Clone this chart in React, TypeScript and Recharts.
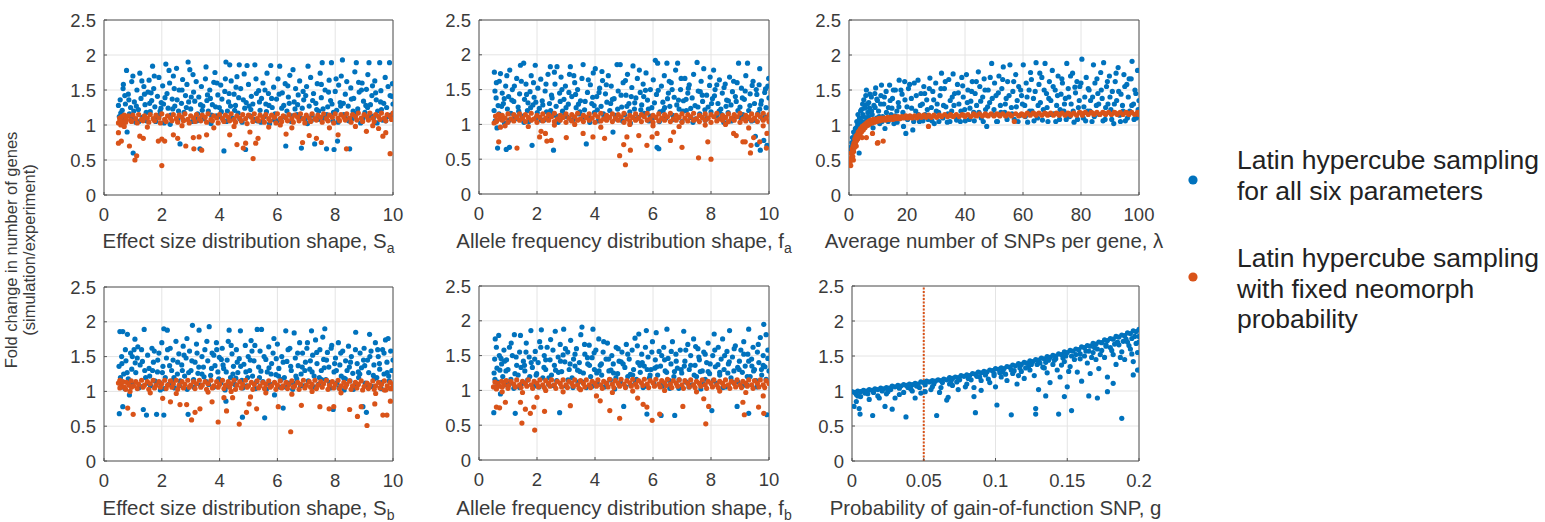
import React from "react";
import {
  ScatterChart,
  Scatter,
  XAxis,
  YAxis,
  CartesianGrid,
  ReferenceArea,
  ReferenceLine,
} from "recharts";

// ---- tick labels ----
const yTicks = [0, 0.5, 1, 1.5, 2, 2.5];
const shapeTicks = [0, 2, 4, 6, 8, 10];
const lamTicks = [0, 20, 40, 60, 80, 100];
const gTicks = [0, 0.05, 0.1, 0.15, 0.2];

// ---- series values, flat x,y pairs ----
// effect size shape S_a
const sABlue = [
  0.5,1.28, 0.53,1.12, 0.56,1.36, 0.6,1.02, 0.63,1.21, 0.67,1.58, 0.7,1.08, 0.74,1.3, 0.78,1.78, 0.8,0.9, 0.84,1.44, 0.88,1.16, 0.92,1.25, 0.96,1.62, 1.0,1.7, 1.01,0.6, 1.05,1.33, 1.1,1.04, 1.14,1.5, 1.19,1.22, 1.24,1.74, 1.28,1.38, 1.33,1.11, 1.38,1.55, 1.42,1.29, 1.47,1.06, 1.52,1.47, 1.56,1.64, 1.6,1.19, 1.65,1.35, 1.68,1.84, 1.72,1.52, 1.76,1.26, 1.8,1.09, 1.85,1.41, 1.9,1.68, 1.94,1.2, 1.98,1.32, 2.03,1.56, 2.08,1.03, 2.14,1.87, 2.18,1.45, 2.22,1.24, 2.27,1.6, 2.31,1.14, 2.36,1.37, 2.4,1.7, 2.45,1.27, 2.51,1.81, 2.55,1.08, 2.6,1.5, 2.63,0.73, 2.68,1.31, 2.72,1.65, 2.77,1.18, 2.82,1.42, 2.87,1.58, 2.91,1.9, 2.97,1.79, 3.0,1.23, 3.05,1.05, 3.1,1.47, 3.14,1.34, 3.19,1.62, 3.24,1.16, 3.28,1.4, 3.32,0.66, 3.37,1.55, 3.42,1.27, 3.46,1.09, 3.51,1.66, 3.56,1.35, 3.61,1.2, 3.66,1.5, 3.7,1.02, 3.75,1.29, 3.8,1.61, 3.84,1.75, 3.89,1.13, 3.94,1.43, 3.99,1.25, 4.04,1.57, 4.08,1.37, 4.13,1.07, 4.15,0.63, 4.18,1.48, 4.22,1.9, 4.27,1.2, 4.31,1.33, 4.35,1.86, 4.4,1.63, 4.45,1.1, 4.5,1.44, 4.55,1.28, 4.6,1.69, 4.64,1.17, 4.68,1.86, 4.73,1.52, 4.78,1.04, 4.82,1.36, 4.87,1.24, 4.9,0.65, 4.95,1.85, 5.0,1.58, 5.05,1.13, 5.1,1.41, 5.15,1.3, 5.22,1.86, 5.26,1.66, 5.3,1.06, 5.35,1.49, 5.4,1.21, 5.45,1.38, 5.5,1.6, 5.55,1.12, 5.6,1.3, 5.64,1.74, 5.69,1.45, 5.73,1.02, 5.77,1.85, 5.82,1.25, 5.87,1.54, 5.92,1.16, 5.97,1.37, 6.02,1.66, 6.08,1.84, 6.12,1.09, 6.17,1.46, 6.22,1.28, 6.27,1.59, 6.29,0.7, 6.33,1.2, 6.38,1.4, 6.43,1.71, 6.48,1.05, 6.54,1.79, 6.58,1.33, 6.63,1.52, 6.68,1.15, 6.72,1.43, 6.77,1.63, 6.83,0.67, 6.86,1.24, 6.91,1.36, 6.96,1.08, 7.01,1.55, 7.06,1.84, 7.1,1.27, 7.15,1.68, 7.2,1.14, 7.25,1.45, 7.29,0.73, 7.33,1.31, 7.38,1.59, 7.43,1.2, 7.48,1.74, 7.52,1.39, 7.55,1.89, 7.6,1.1, 7.65,1.5, 7.7,0.66, 7.74,1.26, 7.79,1.64, 7.84,1.35, 7.87,1.89, 7.92,1.06, 7.96,0.65, 8.0,1.48, 8.05,1.21, 8.08,0.77, 8.12,1.57, 8.17,1.32, 8.21,1.7, 8.25,1.93, 8.3,1.15, 8.35,1.44, 8.4,1.62, 8.45,1.27, 8.5,0.66, 8.54,1.53, 8.59,1.09, 8.64,1.38, 8.68,1.76, 8.73,1.89, 8.78,1.23, 8.83,1.47, 8.88,1.03, 8.93,1.6, 8.98,1.34, 9.03,1.18, 9.08,1.51, 9.13,1.72, 9.17,1.89, 9.22,1.29, 9.27,1.42, 9.32,1.1, 9.37,1.63, 9.42,1.36, 9.47,1.2, 9.54,1.89, 9.58,1.49, 9.63,1.07, 9.68,1.31, 9.73,1.68, 9.78,1.25, 9.83,1.55, 9.88,1.89, 9.92,1.14, 9.96,1.41, 10.0,1.3,
];
const sABlueMore = [
  0.58,1.17, 0.72,1.42, 0.95,1.09, 1.12,1.27, 1.31,1.63, 1.46,1.18, 1.63,1.46, 1.79,1.05, 1.97,1.24, 2.11,1.39, 2.29,1.01, 2.43,1.52, 2.58,1.2, 2.74,1.07, 2.93,1.33, 3.08,1.72, 3.22,1.06, 3.4,1.21, 3.58,1.43, 3.72,1.14, 3.91,1.6, 4.06,1.19, 4.24,1.05, 4.38,1.27, 4.57,1.54, 4.7,1.09, 4.92,1.32, 5.08,1.22, 5.27,1.45, 5.43,1.04, 5.62,1.19, 5.8,1.38, 5.99,1.06, 6.15,1.24, 6.36,1.56, 6.5,1.13, 6.7,1.29, 6.89,1.48, 7.04,1.02, 7.22,1.35, 7.41,1.08, 7.58,1.23, 7.77,1.47, 7.94,1.18, 8.1,1.04, 8.28,1.31, 8.47,1.06, 8.62,1.2, 8.81,1.61, 8.96,1.09, 9.12,1.25, 9.29,1.56, 9.45,1.03, 9.6,1.22, 9.81,1.12, 9.98,1.59,
  0.66,1.52, 0.86,1.36, 1.03,1.2, 1.21,1.05, 1.4,1.44, 1.58,1.31, 1.74,1.7, 1.91,1.14, 2.06,1.3, 2.25,1.78, 2.38,1.23, 2.53,1.36, 2.7,1.5, 2.85,1.25, 3.02,1.4, 3.17,1.11, 3.34,1.29, 3.53,1.83, 3.68,1.38, 3.86,1.26, 4.01,1.12, 4.2,1.66, 4.33,1.45, 4.52,1.21, 4.66,1.39, 4.85,1.73, 5.02,1.27, 5.19,1.08, 5.38,1.33, 5.57,1.5, 5.71,1.28, 5.9,1.07, 6.06,1.44, 6.24,1.12, 6.41,1.31, 6.61,1.23, 6.8,1.1, 6.98,1.42, 7.17,1.06, 7.36,1.22, 7.52,1.58, 7.71,1.15, 7.89,1.3, 8.03,1.66, 8.19,1.27, 8.38,1.09, 8.56,1.37, 8.75,1.17, 8.91,1.5, 9.06,1.28, 9.24,1.13, 9.4,1.46, 9.57,1.33, 9.75,1.06, 9.9,1.42,
];
const sAOrange = [
  0.5,1.03, 0.54,1.1, 0.58,1.0, 0.62,1.12, 0.66,1.05, 0.7,1.14, 0.76,1.08, 0.84,1.13, 0.92,1.07, 1.0,1.14, 1.1,1.09, 1.2,1.15, 1.3,1.08, 1.4,1.13, 1.5,1.1, 1.6,1.15, 1.7,1.09, 1.8,1.14, 1.9,1.1, 2.0,1.16, 2.1,1.08, 2.2,1.13, 2.3,1.1, 2.4,1.15, 2.5,1.09, 2.6,1.14, 2.7,1.11, 2.8,1.16, 2.9,1.08, 3.0,1.13, 3.1,1.1, 3.2,1.15, 3.3,1.09, 3.4,1.14, 3.5,1.11, 3.6,1.16, 3.7,1.08, 3.8,1.13, 3.9,1.1, 4.0,1.15, 4.1,1.09, 4.2,1.14, 4.3,1.11, 4.4,1.16, 4.5,1.08, 4.6,1.13, 4.7,1.1, 4.8,1.15, 4.9,1.09, 5.0,1.14, 5.1,1.11, 5.2,1.16, 5.3,1.09, 5.4,1.14, 5.5,1.1, 5.6,1.15, 5.7,1.09, 5.8,1.14, 5.9,1.11, 6.0,1.16, 6.1,1.09, 6.2,1.13, 6.3,1.1, 6.4,1.15, 6.5,1.09, 6.6,1.14, 6.7,1.11, 6.8,1.16, 6.9,1.09, 7.0,1.14, 7.1,1.1, 7.2,1.16, 7.3,1.09, 7.4,1.14, 7.5,1.11, 7.6,1.16, 7.7,1.09, 7.8,1.14, 7.9,1.11, 8.0,1.16, 8.1,1.1, 8.2,1.15, 8.3,1.11, 8.4,1.16, 8.5,1.1, 8.6,1.15, 8.7,1.12, 8.8,1.17, 8.9,1.1, 9.0,1.15, 9.1,1.12, 9.2,1.17, 9.3,1.1, 9.4,1.15, 9.5,1.12, 9.6,1.17, 9.7,1.1, 9.8,1.15, 9.9,1.12, 10.0,1.17,
  0.55,1.06, 0.75,1.04, 0.95,1.05, 1.15,1.03, 1.35,1.06, 1.55,1.04, 1.75,1.06, 1.95,1.03, 2.15,1.05, 2.35,1.06, 2.55,1.04, 2.75,1.06, 2.95,1.03, 3.15,1.05, 3.35,1.06, 3.55,1.04, 3.75,1.06, 3.95,1.03, 4.15,1.05, 4.35,1.06, 4.55,1.04, 4.75,1.06, 4.95,1.02, 5.15,1.05, 5.35,1.06, 5.55,1.04, 5.75,1.06, 5.95,1.03, 6.15,1.05, 6.35,1.06, 6.55,1.04, 6.75,1.06, 6.95,1.03, 7.15,1.05, 7.35,1.07, 7.55,1.04, 7.75,1.06, 7.95,1.03, 8.15,1.06, 8.35,1.07, 8.55,1.04, 8.75,1.07, 8.95,1.05, 9.15,1.07, 9.35,1.05, 9.55,1.08, 9.75,1.06, 9.95,1.08,
  0.7,0.98, 1.5,0.97, 2.7,0.99, 3.8,0.96, 4.5,0.98, 5.7,0.97, 6.1,1.0, 7.8,0.96, 8.7,0.98, 9.3,0.99, 9.5,0.95,
  0.5,0.89, 0.5,0.74, 0.6,0.77, 0.88,0.7, 1.07,0.5, 1.13,0.56, 1.24,0.84, 1.36,0.81, 1.88,0.77, 2.0,0.8, 2.0,0.42, 2.1,0.77, 2.4,0.86, 2.55,0.81, 2.83,0.7, 3.09,0.82, 3.11,0.66, 3.29,0.83, 3.38,0.64, 3.55,0.86, 4.35,0.86, 4.6,0.72, 4.82,0.67, 4.9,0.74, 5.05,0.9, 5.16,0.52, 5.25,0.74, 5.33,0.81, 6.3,0.87, 6.5,0.96, 6.87,0.75, 7.1,0.85, 7.35,0.81, 7.52,0.75, 8.1,0.86, 8.39,0.66, 9.08,0.91, 9.65,0.84, 9.75,0.89, 9.9,0.59,
];

// allele frequency shape f_a
const fABlue = [
  0.52,1.2, 0.53,1.75, 0.56,1.05, 0.59,1.38, 0.62,0.95, 0.64,0.66, 0.66,1.27, 0.7,1.62, 0.74,1.73, 0.77,1.12, 0.8,1.45, 0.84,1.3, 0.88,1.02, 0.92,1.55, 0.94,0.64, 0.98,1.22, 1.02,1.4, 1.05,0.67, 1.06,1.78, 1.1,1.16, 1.15,1.5, 1.2,1.33, 1.25,1.08, 1.3,1.66, 1.35,1.25, 1.4,1.44, 1.43,1.85, 1.48,1.12, 1.54,1.88, 1.57,1.36, 1.62,1.58, 1.67,1.2, 1.72,1.04, 1.76,1.47, 1.8,1.7, 1.83,0.7, 1.86,1.28, 1.9,1.39, 1.94,1.85, 1.98,1.1, 2.03,1.52, 2.08,1.23, 2.13,1.65, 2.18,1.34, 2.23,1.06, 2.28,1.48, 2.33,1.18, 2.38,1.72, 2.43,1.3, 2.46,1.83, 2.5,1.42, 2.55,1.14, 2.57,0.63, 2.62,1.58, 2.66,1.26, 2.69,1.83, 2.73,1.03, 2.78,1.45, 2.83,1.68, 2.88,1.19, 2.93,1.36, 2.98,1.55, 3.03,1.11, 3.08,1.29, 3.12,1.72, 3.15,1.83, 3.2,1.4, 3.25,1.07, 3.3,1.6, 3.35,1.24, 3.4,1.5, 3.45,1.15, 3.5,1.34, 3.55,1.66, 3.59,1.86, 3.64,1.21, 3.7,0.72, 3.74,1.46, 3.79,1.09, 3.84,1.57, 3.89,1.3, 3.94,1.74, 3.98,1.17, 4.01,1.8, 4.06,1.4, 4.11,1.05, 4.16,1.52, 4.21,1.26, 4.26,1.63, 4.31,1.12, 4.36,1.44, 4.41,1.32, 4.46,1.7, 4.51,1.2, 4.56,1.55, 4.62,0.89, 4.66,1.37, 4.71,1.08, 4.76,1.86, 4.8,1.48, 4.87,1.86, 4.92,1.25, 4.97,1.6, 5.02,1.14, 5.07,1.42, 5.12,1.72, 5.17,1.3, 5.22,1.02, 5.27,1.53, 5.31,1.84, 5.36,1.22, 5.41,1.38, 5.46,1.66, 5.51,1.1, 5.56,1.46, 5.61,1.28, 5.66,1.58, 5.71,1.16, 5.76,1.74, 5.81,1.35, 5.86,1.05, 5.91,1.5, 5.96,1.24, 6.01,1.64, 6.08,1.92, 6.12,1.43, 6.14,0.67, 6.16,1.88, 6.2,0.65, 6.24,1.18, 6.29,1.55, 6.34,1.32, 6.39,1.7, 6.44,1.09, 6.48,1.88, 6.53,1.45, 6.58,1.26, 6.63,1.6, 6.68,1.13, 6.73,1.39, 6.78,1.78, 6.85,1.88, 6.9,1.22, 6.95,1.5, 7.0,1.04, 7.05,1.34, 7.1,1.66, 7.15,1.2, 7.2,1.45, 7.25,1.57, 7.3,1.1, 7.35,1.38, 7.4,1.72, 7.45,1.27, 7.52,1.89, 7.56,1.48, 7.61,1.15, 7.66,1.62, 7.71,1.33, 7.75,1.8, 7.8,1.06, 7.85,1.42, 7.9,1.25, 7.95,1.56, 8.0,1.18, 8.05,1.37, 8.09,1.78, 8.14,1.5, 8.19,1.12, 8.24,1.3, 8.29,1.64, 8.34,1.22, 8.39,1.45, 8.44,1.03, 8.49,1.58, 8.54,1.35, 8.59,1.17, 8.64,1.68, 8.69,1.28, 8.74,1.47, 8.79,1.09, 8.84,1.4, 8.9,1.6, 8.95,1.88, 9.0,1.25, 9.05,1.52, 9.1,1.14, 9.15,1.36, 9.2,1.7, 9.26,1.88, 9.3,1.2, 9.35,1.44, 9.4,1.05, 9.45,1.62, 9.5,1.3, 9.53,0.83, 9.56,1.5, 9.59,0.71, 9.62,1.16, 9.66,1.57, 9.68,1.8, 9.7,0.63, 9.74,1.34, 9.78,1.08, 9.82,0.77, 9.85,1.46, 9.9,1.24, 9.93,0.7, 9.96,1.55, 10.0,1.38,
];
const fABlueMore = [
  0.55,1.48, 0.69,1.15, 0.87,1.37, 1.04,1.06, 1.22,1.55, 1.37,1.19, 1.55,1.03, 1.69,1.31, 1.88,1.6, 2.01,1.17, 2.2,1.28, 2.36,1.08, 2.52,1.38, 2.67,1.12, 2.86,1.5, 3.0,1.24, 3.18,1.06, 3.33,1.43, 3.48,1.18, 3.66,1.33, 3.82,1.03, 3.97,1.27, 4.14,1.46, 4.29,1.15, 4.44,1.09, 4.6,1.36, 4.78,1.22, 4.95,1.05, 5.1,1.26, 5.25,1.4, 5.43,1.08, 5.58,1.21, 5.74,1.49, 5.9,1.12, 6.05,1.31, 6.22,1.04, 6.4,1.24, 6.56,1.62, 6.71,1.07, 6.88,1.35, 7.03,1.19, 7.22,1.52, 7.38,1.03, 7.55,1.25, 7.7,1.42, 7.87,1.09, 8.02,1.3, 8.2,1.57, 8.37,1.14, 8.52,1.26, 8.7,1.05, 8.87,1.33, 9.02,1.1, 9.18,1.48, 9.34,1.27, 9.52,1.06, 9.68,1.22, 9.86,1.11, 9.99,1.66,
  0.6,1.6, 0.78,1.26, 0.96,1.7, 1.13,1.35, 1.28,1.11, 1.46,1.62, 1.64,1.43, 1.78,1.24, 1.96,1.32, 2.15,1.06, 2.31,1.58, 2.47,1.2, 2.6,1.75, 2.8,1.33, 2.95,1.13, 3.1,1.46, 3.27,1.7, 3.43,1.29, 3.6,1.1, 3.77,1.64, 3.92,1.39, 4.08,1.21, 4.24,1.76, 4.39,1.57, 4.54,1.3, 4.7,1.13, 4.9,1.42, 5.05,1.63, 5.2,1.18, 5.37,1.31, 5.53,1.78, 5.68,1.4, 5.84,1.22, 6.0,1.1, 6.18,1.49, 6.35,1.2, 6.5,1.37, 6.66,1.5, 6.82,1.28, 6.97,1.66, 7.14,1.36, 7.3,1.23, 7.47,1.08, 7.63,1.47, 7.79,1.21, 7.97,1.68, 8.12,1.41, 8.28,1.19, 8.45,1.53, 8.6,1.34, 8.78,1.62, 8.93,1.2, 9.08,1.38, 9.24,1.08, 9.42,1.56, 9.58,1.43, 9.72,1.29, 9.88,1.51,
];
const fAOrange = [
  0.52,1.02, 0.57,1.12, 0.62,1.06, 0.67,1.14, 0.72,1.08, 0.8,1.13, 0.9,1.09, 1.0,1.15, 1.1,1.08, 1.2,1.14, 1.3,1.1, 1.4,1.15, 1.5,1.09, 1.6,1.14, 1.7,1.1, 1.8,1.16, 1.9,1.08, 2.0,1.13, 2.1,1.1, 2.2,1.15, 2.3,1.09, 2.4,1.14, 2.5,1.11, 2.6,1.16, 2.7,1.08, 2.8,1.13, 2.9,1.1, 3.0,1.15, 3.1,1.09, 3.2,1.14, 3.3,1.11, 3.4,1.16, 3.5,1.08, 3.6,1.13, 3.7,1.1, 3.8,1.15, 3.9,1.09, 4.0,1.14, 4.1,1.11, 4.2,1.16, 4.3,1.08, 4.4,1.13, 4.5,1.1, 4.6,1.15, 4.7,1.09, 4.8,1.14, 4.9,1.11, 5.0,1.16, 5.1,1.08, 5.2,1.13, 5.3,1.1, 5.4,1.15, 5.5,1.09, 5.6,1.14, 5.7,1.11, 5.8,1.16, 5.9,1.08, 6.0,1.13, 6.1,1.1, 6.2,1.15, 6.3,1.09, 6.4,1.14, 6.5,1.11, 6.6,1.16, 6.7,1.08, 6.8,1.13, 6.9,1.1, 7.0,1.15, 7.1,1.09, 7.2,1.14, 7.3,1.11, 7.4,1.16, 7.5,1.08, 7.6,1.13, 7.7,1.1, 7.8,1.15, 7.9,1.09, 8.0,1.14, 8.1,1.11, 8.2,1.16, 8.3,1.08, 8.4,1.13, 8.5,1.1, 8.6,1.15, 8.7,1.09, 8.8,1.14, 8.9,1.11, 9.0,1.16, 9.1,1.08, 9.2,1.13, 9.3,1.1, 9.4,1.15, 9.5,1.09, 9.6,1.14, 9.7,1.11, 9.8,1.16, 9.9,1.09, 10.0,1.14,
  0.6,1.04, 0.8,1.06, 1.0,1.03, 1.2,1.05, 1.4,1.06, 1.6,1.04, 1.8,1.06, 2.0,1.03, 2.2,1.05, 2.4,1.06, 2.6,1.04, 2.8,1.06, 3.0,1.03, 3.2,1.05, 3.4,1.06, 3.6,1.04, 3.8,1.06, 4.0,1.03, 4.2,1.05, 4.4,1.06, 4.6,1.04, 4.8,1.06, 5.0,1.03, 5.2,1.05, 5.4,1.06, 5.6,1.04, 5.8,1.06, 6.0,1.03, 6.2,1.05, 6.4,1.06, 6.6,1.04, 6.8,1.06, 7.0,1.03, 7.2,1.05, 7.4,1.06, 7.6,1.04, 7.8,1.06, 8.0,1.03, 8.2,1.05, 8.4,1.06, 8.6,1.04, 8.8,1.06, 9.0,1.03, 9.2,1.05, 9.4,1.06, 9.6,1.04, 9.8,1.06, 10.0,1.04,
  0.9,0.98, 1.7,0.97, 2.6,0.99, 3.3,1.0, 4.2,0.96, 5.2,1.0, 6.0,0.98, 6.9,0.97, 7.8,0.99, 8.5,1.0, 9.3,0.95, 9.8,0.98,
  0.68,0.75, 0.74,0.96, 1.31,0.66, 2.09,0.82, 2.14,0.9, 2.29,0.87, 2.34,0.76, 2.49,0.77, 3.01,0.81, 3.59,0.87, 3.93,0.82, 4.33,0.8, 4.85,0.55, 4.99,0.71, 5.05,0.42, 5.1,0.82, 5.22,0.63, 5.51,0.84, 5.79,0.7, 5.97,0.82, 6.14,0.87, 6.6,0.77, 6.71,0.89, 7.0,0.67, 7.57,0.52, 7.89,0.75, 8.0,0.5, 8.78,0.87, 8.87,0.84, 9.1,0.75, 9.18,0.75, 9.36,0.59, 9.38,0.7, 9.47,0.81, 9.68,0.75, 9.91,0.66, 9.93,0.87,
];

// average number of SNPs per gene, lambda
const lamBlue = [
  0.6,0.68, 0.8,0.65, 1.0,0.75, 1.2,0.82, 1.4,0.69, 1.6,0.9, 1.8,0.78, 2.0,0.88, 2.2,0.95, 2.4,0.84, 2.5,0.96, 2.7,1.05, 2.9,0.92, 3.1,1.15, 3.3,1.02, 3.5,0.6, 3.6,1.1, 3.8,0.98, 4.0,1.2, 4.3,1.22, 4.5,1.05, 4.7,1.3, 5.0,1.12, 5.1,1.36, 5.4,0.98, 5.6,1.25, 5.8,1.42, 6.0,1.5, 6.2,1.08, 6.5,1.18, 6.8,1.32, 7.1,1.24, 7.4,1.02, 7.7,1.4, 8.0,1.15, 8.3,0.96, 8.6,1.28, 8.9,1.45, 9.2,1.53, 9.5,1.1, 9.8,1.35, 10.2,1.2, 10.6,1.02, 11.0,1.42, 11.2,1.57, 11.6,1.12, 12.0,1.3, 12.4,0.95, 12.8,1.48, 13.2,1.08, 13.6,1.25, 14.0,1.57, 14.5,1.15, 15.0,1.38, 15.5,1.02, 16.0,1.5, 16.5,1.2, 17.0,1.32, 17.3,1.64, 17.8,1.1, 18.3,1.44, 18.8,0.98, 19.2,1.62, 19.6,0.88, 20.0,1.26, 20.5,1.52, 21.0,1.12, 21.5,1.38, 22.0,0.93, 22.5,1.6, 23.0,1.2, 23.8,1.64, 24.3,1.05, 24.8,1.45, 25.3,1.3, 25.8,1.55, 26.3,1.15, 26.8,1.36, 27.3,1.08, 27.9,1.67, 28.4,1.25, 28.9,1.48, 29.4,1.02, 29.9,1.6, 30.4,1.3, 30.9,1.18, 31.4,1.42, 31.9,1.74, 32.4,1.1, 32.9,1.52, 33.4,1.26, 33.9,1.04, 34.4,1.65, 34.9,1.35, 35.4,1.2, 35.9,1.73, 36.4,1.45, 36.9,1.12, 37.4,1.58, 37.9,1.3, 38.4,1.05, 38.9,1.68, 39.4,1.4, 39.9,1.22, 40.5,1.72, 41.0,1.5, 41.5,1.08, 42.0,1.34, 42.5,1.62, 43.0,1.18, 43.5,1.45, 44.0,1.28, 44.6,1.76, 45.1,1.55, 45.6,1.1, 46.1,1.4, 46.6,1.66, 47.1,1.22, 47.5,0.98, 48.0,1.5, 48.5,1.32, 49.2,1.88, 49.7,1.15, 50.2,1.6, 50.7,1.42, 51.2,1.05, 51.7,1.7, 52.2,1.28, 52.7,1.52, 53.2,1.83, 53.7,1.18, 54.2,1.38, 54.7,1.62, 55.5,1.86, 56.0,1.25, 56.5,1.48, 57.0,1.08, 57.5,1.72, 58.0,1.35, 58.5,1.55, 59.0,1.14, 59.5,1.42, 60.1,1.86, 60.6,1.28, 61.1,1.6, 61.6,1.04, 62.1,1.5, 62.6,1.75, 63.1,1.2, 63.6,1.38, 64.5,1.89, 65.0,1.1, 65.5,1.58, 66.0,1.32, 66.5,1.68, 67.0,1.22, 67.6,1.88, 68.1,1.45, 68.6,1.05, 69.1,1.62, 69.6,1.35, 70.1,1.78, 70.6,1.16, 71.1,1.5, 71.6,1.28, 72.1,1.7, 72.6,1.08, 73.1,1.44, 73.6,1.6, 74.1,1.2, 74.6,1.38, 75.1,1.88, 75.6,1.52, 76.1,1.12, 76.6,1.3, 77.1,1.74, 77.6,1.04, 78.1,1.46, 78.6,1.62, 79.1,1.25, 79.6,1.55, 80.3,1.94, 80.8,1.1, 81.3,1.4, 81.8,1.68, 82.3,1.2, 82.8,1.5, 83.3,1.35, 83.8,1.05, 84.3,1.86, 84.8,1.6, 85.3,1.28, 85.8,1.45, 86.3,1.15, 86.8,1.75, 87.3,1.38, 87.8,1.89, 88.3,1.08, 88.8,1.55, 89.3,1.3, 89.8,1.7, 90.3,1.22, 90.8,1.48, 91.3,1.02, 91.8,1.62, 92.3,1.35, 92.8,1.82, 93.3,1.14, 93.8,1.44, 94.3,1.28, 94.8,1.72, 95.3,1.06, 95.8,1.58, 96.3,1.4, 96.8,1.2, 97.3,1.66, 97.6,1.91, 98.1,1.3, 98.6,1.5, 99.1,1.1, 99.5,1.78, 100.0,1.35,
];
const lamBlueMore = [
  1.1,0.7, 1.7,0.8, 2.3,0.9, 3.0,1.0, 3.4,0.88, 3.9,1.06, 4.4,0.95, 4.8,1.15, 5.3,1.24, 5.7,1.05, 6.3,1.3, 6.7,1.12, 7.2,1.44, 7.8,1.2, 8.4,1.06, 9.0,1.25, 9.6,1.37, 10.4,1.12, 10.9,1.3, 11.4,1.05, 12.2,1.4, 12.9,1.18, 13.5,1.05, 14.2,1.35, 14.8,1.24, 15.3,1.5, 15.9,1.13, 16.6,1.04, 17.2,1.26, 17.9,1.5, 18.6,1.18, 19.3,1.36, 20.2,1.08, 20.9,1.58, 21.6,1.24, 22.3,1.05, 23.2,1.42, 23.9,1.15, 24.6,1.28, 25.5,1.06, 26.1,1.45, 27.0,1.22, 27.7,1.52, 28.6,1.06, 29.2,1.36, 30.1,1.2, 31.0,1.05, 31.7,1.52, 32.6,1.28, 33.2,1.62, 34.1,1.16, 34.8,1.05, 35.6,1.4, 36.2,1.28, 37.1,1.07, 37.7,1.46, 38.6,1.2, 39.2,1.56, 40.1,1.06, 40.8,1.32, 41.7,1.24, 42.3,1.48, 43.2,1.06, 43.9,1.62, 44.8,1.18, 45.4,1.34, 46.3,1.05, 46.9,1.5, 47.8,1.26, 48.7,1.68, 49.4,1.38, 50.0,1.22, 50.9,1.05, 51.5,1.46, 52.4,1.18, 53.0,1.65, 53.9,1.3, 54.5,1.08, 55.2,1.42, 56.2,1.16, 56.8,1.62, 57.7,1.26, 58.3,1.05, 59.2,1.5, 59.8,1.3, 60.8,1.12, 61.4,1.4, 62.3,1.2, 62.9,1.65, 63.8,1.06, 64.2,1.48, 65.2,1.28, 65.8,1.74, 66.7,1.07, 67.3,1.5, 68.3,1.25, 68.9,1.38, 69.8,1.15, 70.4,1.55, 71.3,1.05, 71.9,1.42, 72.8,1.22, 73.4,1.66, 74.3,1.3, 74.9,1.08, 75.8,1.4, 76.4,1.7, 77.3,1.2, 77.9,1.54, 78.8,1.08, 79.4,1.35, 80.0,1.6, 81.0,1.26, 81.6,1.06, 82.5,1.52, 83.1,1.2, 84.0,1.4, 84.6,1.12, 85.5,1.66, 86.1,1.3, 87.0,1.5, 87.6,1.06, 88.5,1.25, 89.1,1.62, 90.0,1.4, 90.6,1.08, 91.5,1.3, 92.1,1.74, 93.0,1.48, 93.6,1.05, 94.5,1.2, 95.1,1.55, 96.0,1.1, 96.6,1.66, 97.5,1.28, 98.3,1.08, 98.9,1.45, 99.7,1.22,
];
const lamOrange = [
  0.3,0.45, 0.5,0.52, 0.6,0.42, 0.7,0.6, 0.9,0.5, 1.0,0.58, 1.1,0.66, 1.3,0.55, 1.4,0.7, 1.5,0.5, 1.6,0.62, 1.7,0.74, 1.9,0.68, 2.0,0.8, 2.2,0.72, 2.4,0.84, 2.5,0.7, 2.6,0.78, 2.8,0.86, 3.0,0.8, 3.2,0.9, 3.4,0.84, 3.6,0.92, 3.8,0.87, 4.0,0.95, 4.3,0.9, 4.5,0.82, 4.6,0.98, 4.9,0.93, 5.2,1.0, 5.5,0.96, 5.8,1.02, 6.0,0.82, 6.1,0.99, 6.4,1.04, 6.7,1.0, 7.0,1.06, 7.3,1.02, 7.6,1.07, 8.0,1.03, 8.1,0.88, 8.4,1.08, 8.8,1.04, 9.2,1.08, 9.6,1.05, 9.8,0.74, 10.0,0.75, 10.1,1.09, 10.6,1.06, 11.1,1.1, 11.6,1.07, 11.8,0.77, 12.1,1.1, 12.7,1.07, 13.3,1.11, 13.9,1.08, 14.5,1.11, 15.1,1.08, 15.7,1.12, 16.3,1.09, 16.9,1.12, 17.5,1.09, 18.2,1.12, 18.9,1.1, 19.6,1.13, 20.3,1.1, 21.0,1.13, 21.8,1.1, 22.6,1.13, 23.4,1.1, 24.2,1.14, 25.0,1.11, 25.8,1.14, 26.6,1.11, 27.4,0.98, 27.5,1.14, 28.4,1.11, 29.3,1.14, 30.2,1.11, 31.1,1.14, 32.0,1.12, 33.0,1.15, 34.0,1.12, 35.0,1.15, 36.0,1.12, 37.0,1.15, 38.0,1.12, 39.0,1.15, 40.0,1.12, 41.0,1.15, 42.0,1.12, 43.0,1.16, 44.0,1.13, 45.0,1.16, 46.0,1.13, 47.0,1.16, 48.0,1.13, 49.0,1.16, 50.0,1.13, 51.0,1.16, 52.0,1.13, 53.0,1.16, 54.0,1.13, 55.0,1.16, 56.0,1.13, 57.0,1.05, 57.5,1.16, 58.5,1.13, 59.5,1.16, 60.5,1.13, 61.5,1.17, 62.5,1.14, 63.5,1.17, 64.5,1.14, 65.5,1.17, 66.5,1.14, 67.5,1.17, 68.5,1.14, 69.5,1.17, 70.5,1.14, 71.5,1.17, 72.5,1.14, 73.5,1.17, 74.5,1.14, 75.5,1.17, 76.5,1.14, 77.5,1.17, 78.5,1.14, 79.5,1.18, 80.5,1.14, 81.5,1.18, 82.5,1.15, 83.5,1.18, 84.5,1.15, 85.5,1.18, 86.5,1.15, 87.5,1.18, 88.5,1.15, 89.5,1.18, 90.5,1.15, 91.5,1.18, 92.5,1.15, 93.5,1.18, 94.5,1.15, 95.5,1.18, 96.5,1.15, 97.5,1.18, 98.5,1.15, 99.5,1.18, 100.0,1.15,
  1.2,0.62, 1.8,0.7, 2.3,0.76, 2.9,0.82, 3.5,0.88, 4.2,0.92, 5.0,0.97, 5.9,0.99, 6.9,1.03, 7.9,1.05, 9.0,1.06, 10.4,1.08, 12.4,1.09, 14.2,1.09, 16.0,1.1, 18.5,1.11, 21.4,1.11, 24.6,1.12, 28.0,1.12, 31.6,1.13, 35.5,1.13, 39.5,1.14, 43.5,1.14, 47.5,1.14, 51.5,1.15, 55.5,1.15, 60.0,1.15, 64.0,1.16, 68.0,1.16, 72.0,1.16, 76.0,1.16, 80.0,1.17, 84.0,1.17, 88.0,1.17, 92.0,1.17, 96.0,1.17,
];

// effect size shape S_b
const sBBlue = [
  0.52,1.36, 0.53,0.68, 0.55,1.86, 0.58,1.12, 0.61,1.5, 0.65,1.86, 0.65,0.78, 0.68,1.25, 0.72,1.04, 0.76,1.44, 0.81,1.82, 0.84,1.18, 0.88,0.95, 0.92,1.55, 0.96,1.32, 1.0,1.1, 1.04,1.6, 1.07,1.75, 1.1,1.27, 1.15,1.48, 1.2,1.05, 1.25,1.38, 1.3,1.6, 1.36,0.74, 1.39,1.89, 1.44,1.2, 1.47,0.66, 1.51,1.52, 1.56,1.33, 1.61,1.08, 1.66,1.62, 1.71,1.42, 1.76,1.15, 1.82,0.67, 1.85,1.28, 1.9,1.55, 1.95,1.02, 2.0,1.7, 2.04,1.36, 2.07,1.9, 2.07,0.66, 2.12,1.2, 2.16,1.48, 2.19,1.88, 2.24,1.1, 2.29,1.62, 2.34,1.3, 2.39,1.45, 2.44,1.05, 2.49,1.72, 2.54,1.25, 2.59,1.54, 2.64,1.15, 2.69,1.38, 2.74,1.65, 2.79,1.22, 2.84,1.48, 2.88,1.03, 2.91,0.67, 2.96,1.58, 3.01,1.3, 3.06,1.95, 3.1,1.17, 3.15,1.42, 3.2,1.68, 3.25,1.26, 3.29,1.88, 3.34,1.09, 3.39,1.5, 3.44,1.35, 3.49,1.6, 3.54,1.14, 3.59,1.44, 3.64,1.93, 3.69,1.23, 3.74,1.55, 3.79,1.06, 3.84,1.37, 3.89,1.7, 3.94,1.28, 3.99,1.49, 4.04,1.12, 4.09,1.62, 4.14,1.33, 4.19,1.02, 4.22,0.86, 4.26,1.45, 4.3,1.72, 4.33,1.88, 4.38,1.2, 4.43,1.54, 4.48,1.36, 4.53,1.1, 4.58,1.6, 4.63,1.27, 4.68,1.47, 4.72,1.87, 4.77,1.16, 4.79,0.63, 4.84,1.39, 4.89,1.66, 4.94,1.08, 4.99,1.5, 5.04,1.3, 5.09,1.73, 5.14,1.22, 5.19,1.44, 5.24,1.04, 5.3,1.89, 5.35,1.35, 5.4,1.58, 5.45,1.89, 5.5,1.14, 5.56,0.62, 5.6,1.46, 5.65,1.28, 5.7,1.64, 5.75,1.1, 5.8,1.4, 5.85,1.55, 5.9,0.95, 5.95,1.24, 6.0,1.68, 6.05,1.33, 6.1,1.06, 6.15,1.5, 6.2,0.76, 6.24,1.2, 6.29,1.87, 6.33,1.43, 6.38,1.12, 6.43,1.62, 6.48,1.3, 6.53,1.03, 6.58,1.84, 6.62,1.48, 6.67,1.18, 6.72,1.37, 6.77,1.7, 6.82,1.25, 6.87,1.55, 6.92,1.08, 6.97,1.42, 7.02,1.62, 7.07,1.15, 7.12,1.32, 7.18,1.87, 7.22,1.52, 7.27,1.22, 7.32,1.74, 7.37,1.4, 7.42,1.1, 7.47,1.6, 7.52,1.3, 7.57,1.78, 7.6,1.46, 7.64,1.9, 7.68,1.17, 7.73,1.56, 7.78,1.35, 7.83,1.05, 7.88,1.66, 7.93,0.74, 7.96,1.28, 8.01,1.48, 8.06,1.12, 8.11,1.7, 8.16,1.38, 8.21,1.22, 8.26,1.58, 8.31,1.02, 8.36,1.44, 8.41,1.3, 8.46,1.65, 8.51,1.15, 8.56,1.5, 8.61,1.26, 8.66,1.08, 8.71,1.85, 8.76,1.4, 8.81,1.2, 8.86,1.55, 8.91,1.34, 8.96,0.78, 9.0,1.62, 9.04,1.12, 9.08,0.7, 9.12,1.45, 9.16,1.27, 9.19,1.82, 9.24,1.58, 9.29,1.07, 9.34,1.38, 9.39,1.7, 9.44,1.2, 9.49,1.5, 9.54,1.32, 9.59,1.04, 9.64,1.6, 9.69,1.25, 9.74,1.74, 9.79,1.42, 9.83,1.76, 9.87,1.15, 9.92,1.58, 9.96,1.3, 10.0,1.45,
];
const sBBlueMore = [
  0.57,1.2, 0.74,1.6, 0.9,1.13, 1.08,1.41, 1.23,1.08, 1.41,1.3, 1.58,1.22, 1.74,1.58, 1.92,1.13, 2.09,1.04, 2.27,1.37, 2.42,1.2, 2.61,1.08, 2.77,1.52, 2.93,1.27, 3.12,1.06, 3.28,1.35, 3.46,1.21, 3.62,1.1, 3.8,1.52, 3.97,1.18, 4.12,1.38, 4.28,1.07, 4.46,1.25, 4.61,1.42, 4.8,1.05, 4.97,1.2, 5.12,1.58, 5.28,1.14, 5.43,1.29, 5.62,1.03, 5.78,1.25, 5.96,1.47, 6.13,1.17, 6.3,1.06, 6.46,1.36, 6.64,1.22, 6.8,1.08, 6.95,1.3, 7.14,1.44, 7.29,1.06, 7.45,1.2, 7.62,1.34, 7.8,1.13, 7.98,1.4, 8.13,1.05, 8.3,1.19, 8.49,1.35, 8.63,1.03, 8.8,1.28, 8.98,1.45, 9.14,1.09, 9.32,1.23, 9.47,1.6, 9.62,1.13, 9.8,1.27, 9.97,1.05,
  0.62,1.4, 0.8,1.27, 0.98,1.5, 1.17,1.64, 1.33,1.43, 1.5,1.12, 1.68,1.3, 1.86,1.45, 2.02,1.27, 2.2,1.6, 2.36,1.15, 2.55,1.42, 2.71,1.3, 2.87,1.76, 3.04,1.44, 3.22,1.55, 3.39,1.25, 3.56,1.72, 3.72,1.33, 3.9,1.6, 4.06,1.46, 4.23,1.28, 4.4,1.66, 4.56,1.19, 4.73,1.36, 4.91,1.28, 5.06,1.45, 5.22,1.66, 5.38,1.2, 5.54,1.5, 5.71,1.34, 5.88,1.76, 6.04,1.22, 6.2,1.42, 6.37,1.6, 6.55,1.12, 6.7,1.55, 6.86,1.35, 7.04,1.7, 7.2,1.28, 7.36,1.56, 7.53,1.17, 7.7,1.45, 7.86,1.62, 8.04,1.3, 8.19,1.55, 8.35,1.18, 8.53,1.42, 8.7,1.6, 8.85,1.25, 9.02,1.37, 9.2,1.5, 9.36,1.18, 9.53,1.4, 9.69,1.55, 9.85,1.22,
];
const sBOrange = [
  0.5,1.12, 0.55,1.16, 0.6,1.09, 0.65,1.14, 0.7,1.06, 0.78,1.13, 0.86,1.09, 0.94,1.15, 1.02,1.08, 1.1,1.14, 1.2,1.1, 1.3,1.16, 1.4,1.09, 1.5,1.14, 1.6,1.11, 1.7,1.16, 1.8,1.09, 1.9,1.14, 2.0,1.11, 2.1,1.16, 2.2,1.09, 2.3,1.15, 2.4,1.11, 2.5,1.16, 2.6,1.09, 2.7,1.14, 2.8,1.1, 2.9,1.16, 3.0,1.09, 3.1,1.14, 3.2,1.11, 3.3,1.16, 3.4,1.09, 3.5,1.14, 3.6,1.11, 3.7,1.16, 3.8,1.08, 3.9,1.14, 4.0,1.1, 4.1,1.16, 4.2,1.09, 4.3,1.14, 4.4,1.11, 4.5,1.16, 4.6,1.09, 4.7,1.14, 4.8,1.1, 4.9,1.16, 5.0,1.08, 5.1,1.13, 5.2,1.1, 5.3,1.15, 5.4,1.08, 5.5,1.13, 5.6,1.1, 5.7,1.15, 5.8,1.08, 5.9,1.13, 6.0,1.09, 6.1,1.15, 6.2,1.08, 6.3,1.13, 6.4,1.1, 6.5,1.15, 6.6,1.08, 6.7,1.13, 6.8,1.1, 6.9,1.16, 7.0,1.09, 7.1,1.14, 7.2,1.1, 7.3,1.16, 7.4,1.09, 7.5,1.14, 7.6,1.11, 7.7,1.16, 7.8,1.09, 7.9,1.14, 8.0,1.1, 8.1,1.16, 8.2,1.08, 8.3,1.13, 8.4,1.1, 8.5,1.15, 8.6,1.08, 8.7,1.13, 8.8,1.1, 8.9,1.15, 9.0,1.07, 9.1,1.12, 9.2,1.09, 9.3,1.15, 9.4,1.08, 9.5,1.13, 9.6,1.1, 9.7,1.15, 9.8,1.08, 9.9,1.13, 10.0,1.1,
  0.55,1.05, 0.75,1.03, 0.95,1.06, 1.15,1.04, 1.35,1.06, 1.55,1.03, 1.75,1.05, 1.95,1.06, 2.15,1.04, 2.35,1.06, 2.55,1.03, 2.75,1.05, 2.95,1.06, 3.15,1.04, 3.35,1.06, 3.55,1.03, 3.75,1.05, 3.95,1.06, 4.15,1.04, 4.35,1.06, 4.55,1.03, 4.75,1.05, 4.95,1.06, 5.15,1.03, 5.35,1.05, 5.55,1.04, 5.75,1.06, 5.95,1.03, 6.15,1.05, 6.35,1.04, 6.55,1.06, 6.75,1.03, 6.95,1.05, 7.15,1.06, 7.35,1.04, 7.55,1.06, 7.75,1.03, 7.95,1.05, 8.15,1.04, 8.35,1.06, 8.55,1.03, 8.75,1.05, 8.95,1.02, 9.15,1.04, 9.35,1.03, 9.55,1.05, 9.75,1.02, 9.95,1.04,
  0.9,1.0, 1.6,0.98, 2.5,0.97, 3.6,0.99, 4.4,1.0, 5.6,0.98, 6.5,0.96, 7.2,1.0, 8.2,0.98, 9.4,0.97, 9.9,1.04, 9.7,1.02,
  0.82,0.76, 1.01,0.67, 2.03,0.9, 2.3,0.85, 2.63,0.81, 2.86,0.81, 3.03,0.59, 3.15,0.7, 3.32,0.75, 3.74,0.85, 3.95,0.56, 4.15,0.91, 4.24,0.72, 4.45,0.91, 4.68,0.53, 4.93,0.7, 5.02,0.82, 5.07,0.92, 5.28,0.75, 6.03,0.78, 6.46,0.42, 6.83,0.8, 7.47,0.78, 7.79,0.75, 7.95,0.78, 8.5,0.74, 8.77,0.64, 8.9,0.78, 9.1,0.51, 9.37,0.82, 9.65,0.66, 9.79,0.66, 9.91,0.86,
];

// allele frequency shape f_b
const fBBlue = [
  0.51,0.68, 0.52,1.25, 0.54,1.45, 0.56,1.74, 0.58,1.05, 0.62,1.32, 0.65,1.12, 0.68,1.79, 0.7,1.5, 0.74,0.95, 0.78,1.38, 0.82,1.2, 0.86,1.58, 0.9,1.08, 0.95,1.44, 1.0,1.3, 1.05,1.62, 1.1,1.16, 1.15,1.5, 1.2,1.03, 1.22,1.8, 1.25,0.67, 1.3,1.36, 1.35,1.22, 1.4,1.55, 1.43,1.79, 1.48,1.1, 1.53,1.42, 1.58,1.28, 1.63,1.68, 1.68,1.15, 1.73,1.48, 1.79,1.86, 1.84,1.33, 1.89,1.06, 1.94,1.56, 1.99,1.24, 2.04,1.4, 2.09,1.7, 2.15,1.87, 2.2,1.18, 2.25,1.5, 2.3,1.3, 2.35,1.62, 2.4,1.09, 2.45,1.44, 2.5,1.22, 2.55,1.58, 2.6,1.36, 2.63,1.85, 2.68,1.14, 2.73,1.48, 2.78,0.68, 2.8,1.66, 2.85,1.27, 2.92,1.88, 2.96,1.41, 3.01,1.06, 3.06,1.55, 3.11,1.3, 3.16,1.72, 3.21,1.18, 3.26,1.45, 3.31,1.35, 3.36,1.6, 3.41,1.12, 3.46,1.4, 3.51,1.8, 3.55,1.91, 3.6,1.25, 3.65,1.52, 3.7,1.04, 3.75,1.38, 3.8,1.65, 3.85,1.2, 3.9,1.47, 3.93,1.88, 3.98,1.3, 4.03,1.58, 4.08,1.1, 4.13,1.74, 4.18,1.36, 4.23,1.22, 4.28,1.55, 4.33,1.05, 4.38,1.45, 4.43,1.68, 4.48,1.28, 4.53,1.15, 4.58,1.5, 4.63,1.38, 4.68,1.02, 4.73,1.62, 4.78,1.24, 4.83,1.42, 4.88,1.12, 4.93,1.55, 4.99,0.77, 5.03,1.33, 5.08,1.66, 5.13,1.2, 5.18,1.45, 5.23,1.08, 5.28,1.58, 5.33,1.3, 5.38,1.75, 5.43,1.16, 5.48,1.4, 5.51,1.81, 5.56,1.26, 5.61,1.52, 5.66,1.04, 5.7,1.35, 5.74,1.62, 5.77,1.86, 5.79,0.66, 5.83,1.48, 5.88,1.18, 5.93,1.3, 5.98,1.7, 6.03,1.1, 6.08,1.44, 6.11,1.83, 6.16,1.22, 6.21,1.56, 6.26,1.35, 6.28,0.64, 6.32,1.06, 6.37,1.62, 6.42,1.28, 6.48,1.88, 6.52,1.46, 6.57,1.14, 6.62,1.38, 6.67,1.7, 6.72,1.2, 6.75,0.64, 6.79,1.52, 6.84,1.32, 6.89,1.03, 6.94,1.58, 6.99,1.25, 7.06,1.85, 7.1,1.42, 7.15,1.12, 7.2,1.66, 7.25,1.3, 7.3,1.5, 7.35,1.08, 7.4,1.74, 7.45,1.36, 7.5,1.2, 7.55,1.6, 7.6,1.44, 7.65,1.02, 7.7,1.28, 7.75,1.55, 7.8,1.16, 7.85,1.4, 7.9,1.68, 7.95,1.24, 8.03,0.71, 8.06,1.5, 8.11,1.81, 8.15,1.34, 8.2,1.1, 8.25,1.62, 8.3,1.22, 8.35,1.45, 8.4,1.74, 8.45,1.3, 8.5,1.05, 8.55,1.56, 8.6,1.38, 8.64,1.86, 8.69,1.18, 8.74,1.48, 8.79,1.28, 8.84,1.64, 8.9,0.77, 8.93,1.12, 8.98,1.42, 9.03,1.58, 9.08,1.26, 9.13,1.7, 9.18,1.35, 9.23,1.08, 9.27,1.52, 9.3,1.88, 9.3,0.67, 9.35,1.2, 9.4,1.45, 9.45,1.62, 9.5,1.3, 9.55,1.14, 9.6,1.55, 9.65,1.4, 9.7,1.76, 9.75,1.22, 9.8,1.5, 9.82,1.95, 9.86,1.34, 9.9,1.8, 9.93,0.65, 9.96,1.58, 10.0,1.28,
];
const fBBlueMore = [
  0.55,1.16, 0.72,1.29, 0.88,1.42, 1.06,1.1, 1.24,1.24, 1.4,1.04, 1.57,1.36, 1.75,1.2, 1.92,1.45, 2.07,1.05, 2.24,1.33, 2.41,1.18, 2.57,1.07, 2.74,1.26, 2.9,1.51, 3.07,1.15, 3.24,1.04, 3.4,1.29, 3.57,1.12, 3.74,1.47, 3.9,1.06, 4.06,1.25, 4.22,1.38, 4.4,1.1, 4.55,1.29, 4.72,1.18, 4.9,1.41, 5.06,1.05, 5.22,1.23, 5.39,1.13, 5.55,1.36, 5.72,1.06, 5.9,1.22, 6.06,1.32, 6.24,1.09, 6.4,1.44, 6.58,1.03, 6.74,1.27, 6.9,1.15, 7.08,1.35, 7.24,1.05, 7.42,1.22, 7.58,1.48, 7.74,1.09, 7.9,1.27, 8.08,1.14, 8.24,1.37, 8.41,1.04, 8.58,1.25, 8.75,1.12, 8.92,1.33, 9.08,1.06, 9.25,1.2, 9.41,1.35, 9.58,1.05, 9.74,1.3, 9.9,1.16,
  0.6,1.62, 0.76,1.46, 0.93,1.28, 1.11,1.68, 1.28,1.48, 1.45,1.33, 1.62,1.55, 1.8,1.4, 1.97,1.22, 2.13,1.62, 2.3,1.44, 2.47,1.73, 2.64,1.29, 2.81,1.42, 2.98,1.6, 3.14,1.38, 3.31,1.52, 3.48,1.27, 3.64,1.66, 3.81,1.36, 3.97,1.54, 4.14,1.28, 4.3,1.7, 4.47,1.45, 4.64,1.25, 4.8,1.6, 4.97,1.38, 5.13,1.52, 5.3,1.22, 5.46,1.64, 5.63,1.4, 5.8,1.3, 5.96,1.55, 6.13,1.34, 6.3,1.5, 6.47,1.26, 6.63,1.56, 6.8,1.42, 6.97,1.3, 7.13,1.58, 7.3,1.36, 7.47,1.63, 7.63,1.27, 7.8,1.52, 7.97,1.38, 8.13,1.58, 8.3,1.26, 8.47,1.5, 8.63,1.41, 8.8,1.6, 8.97,1.3, 9.13,1.52, 9.3,1.42, 9.47,1.28, 9.63,1.66, 9.8,1.36, 9.96,1.46,
];
const fBOrange = [
  0.5,1.05, 0.55,1.12, 0.6,1.02, 0.65,1.1, 0.7,1.06, 0.78,1.13, 0.86,1.08, 0.94,1.14, 1.02,1.07, 1.1,1.13, 1.2,1.09, 1.3,1.15, 1.4,1.08, 1.5,1.13, 1.6,1.1, 1.7,1.15, 1.8,1.08, 1.9,1.13, 2.0,1.1, 2.1,1.15, 2.2,1.08, 2.3,1.14, 2.4,1.1, 2.5,1.15, 2.6,1.08, 2.7,1.13, 2.8,1.1, 2.9,1.15, 3.0,1.08, 3.1,1.13, 3.2,1.1, 3.3,1.15, 3.4,1.08, 3.5,1.14, 3.6,1.1, 3.7,1.15, 3.8,1.08, 3.9,1.13, 4.0,1.1, 4.1,1.15, 4.2,1.08, 4.3,1.13, 4.4,1.1, 4.5,1.16, 4.6,1.09, 4.7,1.14, 4.8,1.1, 4.9,1.16, 5.0,1.09, 5.1,1.14, 5.2,1.11, 5.3,1.16, 5.4,1.09, 5.5,1.14, 5.6,1.11, 5.7,1.16, 5.8,1.09, 5.9,1.14, 6.0,1.11, 6.1,1.16, 6.2,1.09, 6.3,1.14, 6.4,1.11, 6.5,1.16, 6.6,1.09, 6.7,1.14, 6.8,1.1, 6.9,1.15, 7.0,1.08, 7.1,1.14, 7.2,1.1, 7.3,1.15, 7.4,1.08, 7.5,1.13, 7.6,1.1, 7.7,1.15, 7.8,1.08, 7.9,1.13, 8.0,1.1, 8.1,1.15, 8.2,1.08, 8.3,1.13, 8.4,1.1, 8.5,1.15, 8.6,1.08, 8.7,1.13, 8.8,1.1, 8.9,1.15, 9.0,1.08, 9.1,1.13, 9.2,1.1, 9.3,1.15, 9.4,1.08, 9.5,1.14, 9.6,1.1, 9.7,1.15, 9.8,1.08, 9.9,1.14, 10.0,1.1,
  0.58,1.04, 0.8,1.05, 1.0,1.03, 1.25,1.05, 1.45,1.04, 1.65,1.06, 1.85,1.03, 2.05,1.05, 2.25,1.04, 2.45,1.06, 2.65,1.03, 2.85,1.05, 3.05,1.04, 3.25,1.06, 3.45,1.03, 3.65,1.05, 3.85,1.04, 4.05,1.06, 4.25,1.03, 4.45,1.05, 4.65,1.04, 4.85,1.06, 5.05,1.04, 5.25,1.06, 5.45,1.05, 5.65,1.07, 5.85,1.04, 6.05,1.06, 6.25,1.05, 6.45,1.07, 6.65,1.04, 6.85,1.06, 7.05,1.03, 7.25,1.05, 7.45,1.04, 7.65,1.06, 7.85,1.03, 8.05,1.05, 8.25,1.04, 8.45,1.06, 8.65,1.03, 8.85,1.05, 9.05,1.04, 9.25,1.06, 9.45,1.03, 9.65,1.05, 9.85,1.04,
  0.8,0.98, 1.5,0.97, 2.3,1.0, 2.9,0.98, 3.5,1.01, 4.6,0.97, 5.3,0.99, 6.4,1.0, 7.5,0.98, 8.3,0.99, 9.2,0.97, 9.8,0.92,
  0.6,0.76, 0.71,0.75, 0.91,0.83, 1.43,0.83, 1.48,0.53, 1.6,0.73, 1.77,0.67, 1.89,0.76, 1.92,0.43, 2.0,0.9, 2.26,0.7, 3.15,0.78, 4.05,0.92, 4.18,0.85, 4.51,0.71, 4.85,0.6, 5.47,0.89, 5.66,0.8, 5.79,0.76, 5.97,0.57, 6.23,0.66, 7.03,0.77, 7.75,0.88, 7.82,0.52, 7.92,0.77, 9.1,0.83, 9.15,0.65, 9.64,0.76, 9.82,0.67,
];

// probability of gain-of-function SNP, g (blue only)
const gBlue = [
  0.0,0.99, 0.002,0.98, 0.004,1.0, 0.006,0.99, 0.008,1.01, 0.01,1.0, 0.012,1.02, 0.014,1.01, 0.016,1.03, 0.018,1.02, 0.02,1.04, 0.022,1.03, 0.024,1.05, 0.026,1.04, 0.028,1.07, 0.03,1.06, 0.032,1.08, 0.034,1.07, 0.036,1.09, 0.038,1.08, 0.04,1.1, 0.042,1.09, 0.044,1.11, 0.046,1.1, 0.048,1.13, 0.05,1.12, 0.052,1.14, 0.054,1.13, 0.056,1.15, 0.058,1.14, 0.06,1.16, 0.062,1.15, 0.064,1.17, 0.066,1.16, 0.068,1.19, 0.07,1.18, 0.072,1.2, 0.074,1.19, 0.076,1.22, 0.078,1.21, 0.08,1.23, 0.082,1.22, 0.084,1.25, 0.086,1.24, 0.088,1.27, 0.09,1.26, 0.092,1.28, 0.094,1.27, 0.096,1.3, 0.098,1.29, 0.1,1.32, 0.102,1.31, 0.104,1.33, 0.106,1.32, 0.108,1.35, 0.11,1.34, 0.112,1.37, 0.114,1.36, 0.116,1.39, 0.118,1.38, 0.12,1.41, 0.122,1.4, 0.124,1.43, 0.126,1.42, 0.128,1.45, 0.13,1.44, 0.132,1.47, 0.134,1.46, 0.136,1.49, 0.138,1.48, 0.14,1.51, 0.142,1.5, 0.144,1.53, 0.146,1.52, 0.148,1.56, 0.15,1.55, 0.152,1.58, 0.154,1.57, 0.156,1.6, 0.158,1.59, 0.16,1.63, 0.162,1.62, 0.164,1.65, 0.166,1.64, 0.168,1.68, 0.17,1.67, 0.172,1.7, 0.174,1.69, 0.176,1.73, 0.178,1.72, 0.18,1.75, 0.182,1.74, 0.184,1.78, 0.186,1.77, 0.188,1.8, 0.19,1.79, 0.192,1.83, 0.194,1.82, 0.196,1.86, 0.198,1.85, 0.2,1.88,
  0.003,0.95, 0.009,0.97, 0.015,0.98, 0.021,1.0, 0.027,1.02, 0.033,1.04, 0.039,1.05, 0.045,1.07, 0.051,1.09, 0.057,1.1, 0.063,1.12, 0.069,1.14, 0.075,1.16, 0.081,1.18, 0.087,1.21, 0.093,1.23, 0.099,1.25, 0.105,1.27, 0.111,1.3, 0.117,1.33, 0.123,1.35, 0.129,1.38, 0.135,1.41, 0.141,1.44, 0.147,1.47, 0.153,1.5, 0.159,1.53, 0.165,1.57, 0.171,1.6, 0.177,1.64, 0.183,1.67, 0.189,1.71, 0.195,1.75, 0.2,1.78,
  0.006,0.92, 0.012,0.88, 0.018,0.93, 0.024,0.96, 0.03,0.9, 0.036,0.98, 0.042,1.0, 0.048,0.97, 0.055,1.02, 0.062,1.05, 0.07,1.08, 0.074,1.02, 0.08,1.1, 0.085,1.05, 0.09,1.15, 0.096,1.12, 0.1,1.06, 0.104,1.2, 0.108,1.15, 0.112,1.25, 0.115,1.1, 0.118,1.28, 0.12,1.18, 0.124,1.3, 0.127,1.22, 0.13,1.02, 0.133,1.34, 0.136,1.26, 0.138,1.12, 0.14,1.38, 0.143,1.3, 0.145,1.2, 0.148,1.42, 0.15,1.06, 0.152,1.35, 0.155,1.45, 0.157,1.27, 0.16,1.14, 0.162,1.5, 0.164,1.4, 0.166,1.25, 0.168,1.55, 0.17,1.45, 0.172,1.32, 0.174,1.58, 0.176,1.48, 0.178,1.2, 0.18,1.62, 0.182,1.52, 0.184,1.38, 0.186,1.66, 0.188,1.56, 0.19,1.45, 0.192,1.7, 0.194,1.6, 0.196,1.42, 0.198,1.68, 0.2,1.3, 0.199,1.55,
  0.0014,0.78, 0.003,0.85, 0.005,0.75, 0.0056,0.67, 0.0144,0.65, 0.023,0.78, 0.028,0.74, 0.0376,0.63, 0.044,0.9, 0.051,0.99, 0.059,0.65, 0.066,0.87, 0.067,0.91, 0.086,0.69, 0.085,0.92, 0.09,1.01, 0.101,0.8, 0.111,0.66, 0.128,0.67, 0.128,0.75, 0.135,0.93, 0.144,0.67, 0.148,0.92, 0.153,0.72, 0.165,0.93, 0.171,0.9, 0.178,0.99, 0.188,0.61, 0.182,1.11, 0.196,1.23, 0.199,1.3,
];
const gBlueMore = [
  0.004,0.93, 0.011,0.96, 0.019,0.9, 0.025,0.99, 0.033,0.95, 0.041,1.03, 0.047,1.05, 0.056,1.06, 0.061,0.98, 0.068,1.1, 0.073,1.13, 0.079,1.06, 0.083,1.16, 0.089,1.2, 0.095,1.17, 0.099,1.22, 0.103,1.26, 0.107,1.24, 0.113,1.29, 0.116,1.22, 0.121,1.33, 0.125,1.38, 0.131,1.4, 0.134,1.33, 0.137,1.44, 0.142,1.46, 0.146,1.37, 0.149,1.5, 0.151,1.28, 0.156,1.52, 0.159,1.46, 0.163,1.57, 0.167,1.48, 0.169,1.62, 0.173,1.52, 0.177,1.66, 0.181,1.58, 0.185,1.7, 0.187,1.48, 0.191,1.74, 0.193,1.65, 0.195,1.53, 0.197,1.78, 0.2,1.7,
];

const BLUE = "#0072BD";
const ORANGE = "#D95319";
const AXIS = "#555555";
const TEXT = "#3a3a3a";
const GRID = "#e4e4e4";
const FONT = "'Liberation Sans', Arial, Helvetica, sans-serif";
const R = 2.6;

const pts = (flat: number[]) => {
  const out: { x: number; y: number }[] = [];
  for (let i = 0; i + 1 < flat.length; i += 2) out.push({ x: flat[i], y: flat[i + 1] });
  return out;
};

const dot = (color: string) => (p: any) =>
  p.cx == null ? <g /> : <circle cx={p.cx} cy={p.cy} r={R} fill={color} />;

type PanelSpec = {
  left: number;
  top: number;
  w: number;
  h: number;
  domain: [number, number];
  ticks: number[];
  blue: number[];
  orange?: number[];
  label: string;
  sub?: string;
  labelY: number;
  vline?: number;
};

const panels: PanelSpec[] = [
  { left: 104, top: 20, w: 289, h: 175, domain: [0, 10], ticks: shapeTicks, blue: [...sABlue, ...sABlueMore], orange: sAOrange, label: "Effect size distribution shape, S", sub: "a", labelY: 248 },
  { left: 479, top: 20, w: 290, h: 174, domain: [0, 10], ticks: shapeTicks, blue: [...fABlue, ...fABlueMore], orange: fAOrange, label: "Allele frequency distribution shape, f", sub: "a", labelY: 248 },
  { left: 849, top: 20, w: 290, h: 175, domain: [0, 100], ticks: lamTicks, blue: [...lamBlue, ...lamBlueMore], orange: lamOrange, label: "Average number of SNPs per gene, \u03bb", labelY: 248 },
  { left: 104, top: 287, w: 289, h: 174, domain: [0, 10], ticks: shapeTicks, blue: [...sBBlue, ...sBBlueMore], orange: sBOrange, label: "Effect size distribution shape, S", sub: "b", labelY: 515 },
  { left: 479, top: 286, w: 290, h: 174, domain: [0, 10], ticks: shapeTicks, blue: [...fBBlue, ...fBBlueMore], orange: fBOrange, label: "Allele frequency distribution shape, f", sub: "b", labelY: 515 },
  { left: 852, top: 286, w: 287, h: 175, domain: [0, 0.2], ticks: gTicks, blue: [...gBlue, ...gBlueMore], label: "Probability of gain-of-function SNP, g", labelY: 515, vline: 0.05 },
];

const Y_W = 60;
const M_TOP = 14;
const M_RIGHT = 26;
const X_H = 50;

function Panel({ p }: { p: PanelSpec }) {
  return (
    <div style={{ position: "absolute", left: p.left - Y_W, top: p.top - M_TOP }}>
      <ScatterChart
        width={Y_W + p.w + M_RIGHT}
        height={M_TOP + p.h + X_H}
        margin={{ top: M_TOP, right: M_RIGHT, bottom: 0, left: 0 }}
      >
        <CartesianGrid stroke={GRID} />
        <XAxis
          type="number"
          dataKey="x"
          domain={p.domain}
          ticks={p.ticks}
          allowDataOverflow
          height={X_H}
          axisLine={false}
          tickLine={{ stroke: AXIS }}
          tickSize={-3}
          tickMargin={16}
          tick={{ fill: TEXT, fontSize: 18.5, fontFamily: FONT }}
        />
        <YAxis
          type="number"
          dataKey="y"
          domain={[0, 2.5]}
          ticks={yTicks}
          allowDataOverflow
          width={Y_W}
          axisLine={false}
          tickLine={{ stroke: AXIS }}
          tickSize={-3}
          tickMargin={11}
          tick={{ fill: TEXT, fontSize: 18.5, fontFamily: FONT }}
        />
        <Scatter data={pts(p.blue)} fill={BLUE} shape={dot(BLUE)} isAnimationActive={false} />
        {p.orange && (
          <Scatter data={pts(p.orange)} fill={ORANGE} shape={dot(ORANGE)} isAnimationActive={false} />
        )}
        {p.vline !== undefined && (
          <ReferenceLine x={p.vline} stroke={ORANGE} strokeWidth={2} strokeDasharray="2 1.5" />
        )}
        <ReferenceArea
          x1={p.domain[0]}
          x2={p.domain[1]}
          y1={0}
          y2={2.5}
          fill="none"
          fillOpacity={0}
          stroke={AXIS}
          strokeWidth={1}
        />
      </ScatterChart>
    </div>
  );
}

export default function App() {
  return (
    <div style={{ position: "absolute", left: 0, top: 0, width: 1545, height: 522, background: "#fff", fontFamily: FONT }}>
      {panels.map((p, i) => (
        <Panel key={i} p={p} />
      ))}
      <svg
        width={1545}
        height={522}
        style={{ position: "absolute", left: 0, top: 0, pointerEvents: "none" }}
        fontFamily={FONT}
      >
        {/* shared y label */}
        <text transform="translate(17,250) rotate(-90)" textAnchor="middle" fontSize={16.5} fill={TEXT}>
          Fold change in number of genes
        </text>
        <text transform="translate(35,250) rotate(-90)" textAnchor="middle" fontSize={16.5} fill={TEXT}>
          (simulation/experiment)
        </text>

        {/* x labels */}
        {panels.map((p, i) => (
          <text key={i} x={p.left + p.w / 2} y={p.labelY} textAnchor="middle" fontSize={20.4} fill={TEXT}>
            {p.label}
            {p.sub && (
              <tspan fontSize={14} dy={5}>
                {p.sub}
              </tspan>
            )}
          </text>
        ))}

        {/* legend */}
        <circle cx={1193} cy={180} r={4.6} fill={BLUE} />
        <text x={1237} y={169} fontSize={26.5} fill="#222">Latin hypercube sampling</text>
        <text x={1237} y={200} fontSize={26.5} fill="#222">for all six parameters</text>
        <circle cx={1193} cy={277} r={4.6} fill={ORANGE} />
        <text x={1237} y={267} fontSize={26.5} fill="#222">Latin hypercube sampling</text>
        <text x={1237} y={298} fontSize={26.5} fill="#222">with fixed neomorph</text>
        <text x={1237} y={328} fontSize={26.5} fill="#222">probability</text>
      </svg>
    </div>
  );
}
